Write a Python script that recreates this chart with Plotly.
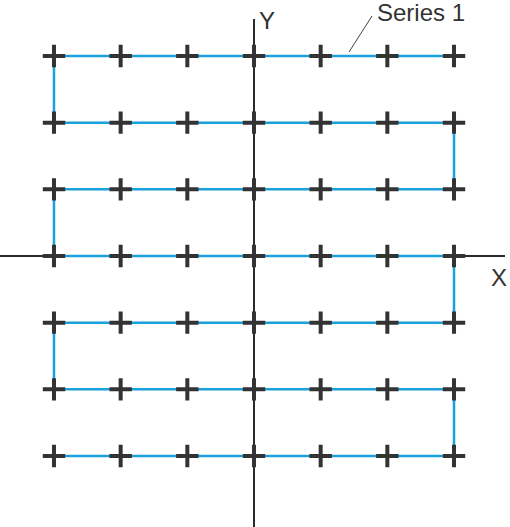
import plotly.graph_objects as go

# Serpentine path through a 7x7 grid (row by row)
x_vals = [3, 2, 1, 0, -1, -2, -3,
          -3, -2, -1, 0, 1, 2, 3,
          3, 2, 1, 0, -1, -2, -3,
          -3, -2, -1, 0, 1, 2, 3,
          3, 2, 1, 0, -1, -2, -3,
          -3, -2, -1, 0, 1, 2, 3,
          3, 2, 1, 0, -1, -2, -3]
y_vals = [3, 3, 3, 3, 3, 3, 3,
          2, 2, 2, 2, 2, 2, 2,
          1, 1, 1, 1, 1, 1, 1,
          0, 0, 0, 0, 0, 0, 0,
          -1, -1, -1, -1, -1, -1, -1,
          -2, -2, -2, -2, -2, -2, -2,
          -3, -3, -3, -3, -3, -3, -3]
series_name = "Series 1"
x_title = "X"
y_title = "Y"

W, H = 510, 527
unit = 66.67
ox, oy = 254, 256  # pixel position of origin

def px_to_data_x(px):
    return (px - ox) / unit

def px_to_data_y(py):
    return (oy - py) / unit

fig = go.Figure()

fig.add_trace(go.Scatter(
    x=x_vals, y=y_vals, mode="lines",
    line=dict(color="#1aa0dc", width=2.5),
    name=series_name, hoverinfo="skip"))
fig.add_trace(go.Scatter(
    x=x_vals, y=y_vals, mode="markers",
    marker=dict(symbol="cross-thin", size=16,
                line=dict(color="#333333", width=4), color="#333333"),
    name=series_name, showlegend=False))

AXC = "#2b2b2b"
# X axis line
fig.add_shape(type="line", xref="paper", yref="y",
              x0=0, x1=505 / W, y0=0, y1=0,
              line=dict(color=AXC, width=2), layer="below")
# Y axis line
fig.add_shape(type="line", xref="x", yref="paper",
              x0=0, x1=0, y0=0, y1=1 - 19 / H,
              line=dict(color=AXC, width=2), layer="below")
# leader line for series label
fig.add_shape(type="line", xref="paper", yref="paper",
              x0=349 / W, y0=1 - 52 / H, x1=372 / W, y1=1 - 16 / H,
              line=dict(color="#444444", width=1))

font = dict(family="Liberation Sans, Arial, sans-serif", size=24, color="#333333")
fig.add_annotation(text=series_name, xref="paper", yref="paper",
                   x=375 / W, y=1 - 12 / H, xanchor="left", yanchor="middle",
                   showarrow=False, font=font)
fig.add_annotation(text=y_title, xref="paper", yref="paper",
                   x=257 / W, y=1 - 21 / H, xanchor="left", yanchor="middle",
                   showarrow=False, font=font)
fig.add_annotation(text=x_title, xref="paper", yref="paper",
                   x=489 / W, y=1 - 277 / H, xanchor="left", yanchor="middle",
                   showarrow=False, font=font)

fig.update_xaxes(range=[px_to_data_x(0), px_to_data_x(W)], visible=False,
                 showgrid=False, zeroline=False, fixedrange=True)
fig.update_yaxes(range=[px_to_data_y(H), px_to_data_y(0)], visible=False,
                 showgrid=False, zeroline=False, fixedrange=True)
fig.update_layout(width=W, height=H, margin=dict(l=0, r=0, t=0, b=0),
                  paper_bgcolor="white", plot_bgcolor="white",
                  showlegend=False)

fig.write_html("out.html", config={"displayModeBar": False},
               post_script="document.body.style.margin='0';"
                           "document.body.style.overflow='hidden';")
